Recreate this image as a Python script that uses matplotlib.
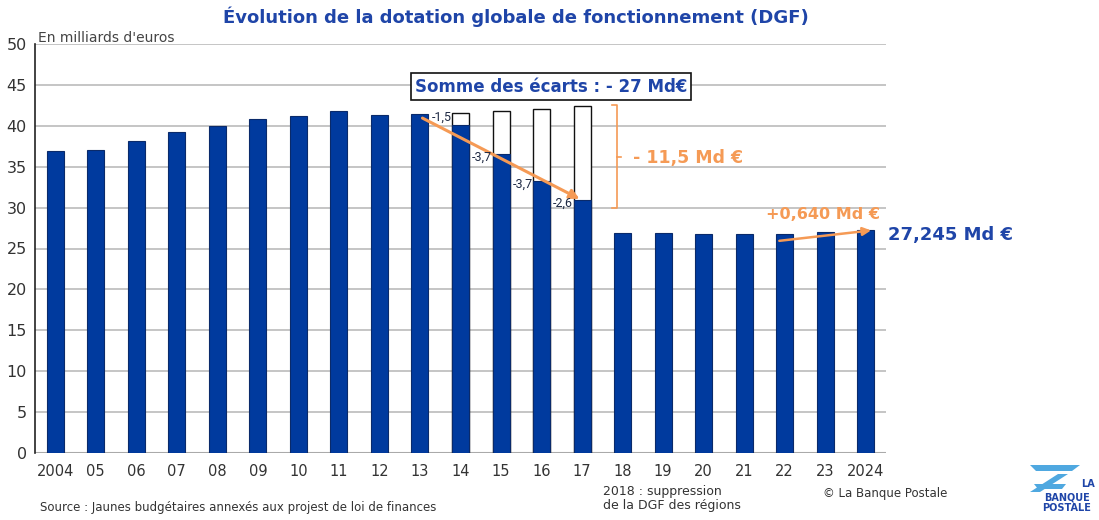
import matplotlib
matplotlib.use("Agg")
import matplotlib.pyplot as plt
from matplotlib.patches import Polygon

# ---------------- data ----------------
years = ["2004", "05", "06", "07", "08", "09", "10", "11", "12", "13", "14",
         "15", "16", "17", "18", "19", "20", "21", "22", "23", "2024"]
dgf = [36.9, 37.0, 38.2, 39.2, 40.0, 40.85, 41.2, 41.8, 41.35, 41.5, 40.1,
       36.6, 33.2, 30.9, 26.9, 26.9, 26.8, 26.8, 26.8, 27.0, 27.245]
# hypothetical level without the cuts (white outlined bars), 2014-2017
cut_years_idx = [10, 11, 12, 13]
no_cut_level = [41.6, 41.8, 42.1, 42.4]
cut_labels = ["-1,5", "-3,7", "-3,7", "-2,6"]
yticks = [0, 5, 10, 15, 20, 25, 30, 35, 40, 45, 50]

BLUE = "#003A9E"
TITLE_BLUE = "#1F45A8"
ORANGE = "#F59A55"
TXT = "#333333"

plt.rcParams["font.family"] = ["DejaVu Sans"]

fig = plt.figure(figsize=(10.99, 5.2), dpi=100)
W, H = 1099, 520
ax = fig.add_axes([35 / W, (H - 453) / H, (886 - 35) / W, (453 - 44) / H])

x = list(range(len(years)))
bw = 0.42

# white outlined "without cuts" bars
ax.bar(cut_years_idx, no_cut_level, width=bw, color="white",
       edgecolor="#111111", linewidth=1.0, zorder=2)
ax.bar(x, dgf, width=bw, color=BLUE, edgecolor="#0a2a6a", linewidth=0.8, zorder=3)

ax.set_xlim(-0.5, 20.5)
ax.set_ylim(0, 50)
ax.set_yticks(yticks)
ax.set_xticks(x)
ax.set_xticklabels(years)
ax.yaxis.grid(True, color="#BBBBBB", linewidth=1.2, zorder=0)
ax.set_axisbelow(True)
for s in ["top", "right", "bottom"]:
    ax.spines[s].set_visible(False)
ax.spines["left"].set_color("#222222")
ax.spines["left"].set_linewidth(1.2)
ax.axhline(0, color="#AAAAAA", linewidth=1.5, zorder=1)
ax.tick_params(axis="y", length=0, labelsize=11.5, labelcolor=TXT, pad=6)
ax.tick_params(axis="x", length=0, labelsize=10.5, labelcolor=TXT, pad=8)

# cut labels
for i, lab in zip(cut_years_idx, cut_labels):
    yv = dgf[i]
    ax.text(i - bw / 2 - 0.01, yv + (0.9 if lab == "-1,5" else -0.4), lab,
            ha="right", va="center", fontsize=9, color="#1f2a44",
            family=["Roboto", "DejaVu Sans"], zorder=8)

# orange arrow 2013 -> 2017
ax.annotate("", xy=(13.0, 30.9), xytext=(9.0, 41.1),
            arrowprops=dict(arrowstyle="-|>", color=ORANGE, lw=2.2,
                            mutation_scale=14), zorder=6)

# bracket
bx = 13.85
ax.plot([bx - 0.12, bx, bx, bx - 0.12], [42.5, 42.5, 29.9, 29.9],
        color=ORANGE, lw=1.2, clip_on=False)
ax.plot([bx, bx + 0.12], [36.2, 36.2], color=ORANGE, lw=1.2, clip_on=False)
ax.text(14.25, 36.1, "- 11,5 Md €", color=ORANGE, fontsize=12.5,
        fontweight="bold", ha="left", va="center")

# box
ax.text(12.23, 44.8, "Somme des écarts : - 27 Md€", color=TITLE_BLUE,
        fontsize=12, fontweight="bold", ha="center", va="center",
        bbox=dict(boxstyle="square,pad=0.25", fc="white", ec="#111111", lw=1.2),
        zorder=7)

# +0,640 arrow
ax.annotate("", xy=(20.2, 27.25), xytext=(17.8, 25.9),
            arrowprops=dict(arrowstyle="-|>", color=ORANGE, lw=1.8,
                            mutation_scale=12), zorder=6, annotation_clip=False)
ax.text(18.95, 29.1, "+0,640 Md €", color=ORANGE, fontsize=11.5,
        fontweight="bold", ha="center", va="center", clip_on=False)
ax.text(20.55, 26.6, "27,245 Md €", color=TITLE_BLUE, fontsize=13,
        fontweight="bold", ha="left", va="center", clip_on=False)

# titles / notes
fig.text(516 / W, 1 - 17 / H, "Évolution de la dotation globale de fonctionnement (DGF)",
         color=TITLE_BLUE, fontsize=13, fontweight="bold", ha="center", va="center")
fig.text(38 / W, 1 - 38 / H, "En milliards d'euros", color="#444444",
         fontsize=10, ha="left", va="center")
fig.text(40 / W, 1 - 508 / H,
         "Source : Jaunes budgétaires annexés aux projest de loi de finances",
         color=TXT, fontsize=8.5, ha="left", va="center")
fig.text(603 / W, 1 - 499 / H, "2018 : suppression\nde la DGF des régions",
         color=TXT, fontsize=9, ha="left", va="center", linespacing=1.1)
fig.text(823 / W, 1 - 493 / H, "© La Banque Postale", color=TXT,
         fontsize=8.5, ha="left", va="center")

# logo (approximation)
def px(pts):
    return [(a / W, 1 - b / H) for a, b in pts]
LB = "#4FA8E0"
fig.patches.append(Polygon(px([(1030, 465), (1080, 465), (1072, 471), (1036, 471)]),
                           closed=True, fc=LB, ec="none", transform=fig.transFigure))
fig.patches.append(Polygon(px([(1058, 474), (1068, 474), (1040, 492), (1030, 492)]),
                           closed=True, fc=LB, ec="none", transform=fig.transFigure))
fig.patches.append(Polygon(px([(1034, 484), (1066, 484), (1062, 489), (1038, 489)]),
                           closed=True, fc=LB, ec="none", transform=fig.transFigure))
fig.text(1088 / W, 1 - 484 / H, "LA", color=TITLE_BLUE, fontsize=7,
         fontweight="bold", ha="center", va="center")
fig.text(1067 / W, 1 - 497 / H, "BANQUE", color=TITLE_BLUE, fontsize=7,
         fontweight="bold", ha="center", va="center")
fig.text(1067 / W, 1 - 508 / H, "POSTALE", color=TITLE_BLUE, fontsize=7,
         fontweight="bold", ha="center", va="center")

fig.savefig("out.png", dpi=100)
